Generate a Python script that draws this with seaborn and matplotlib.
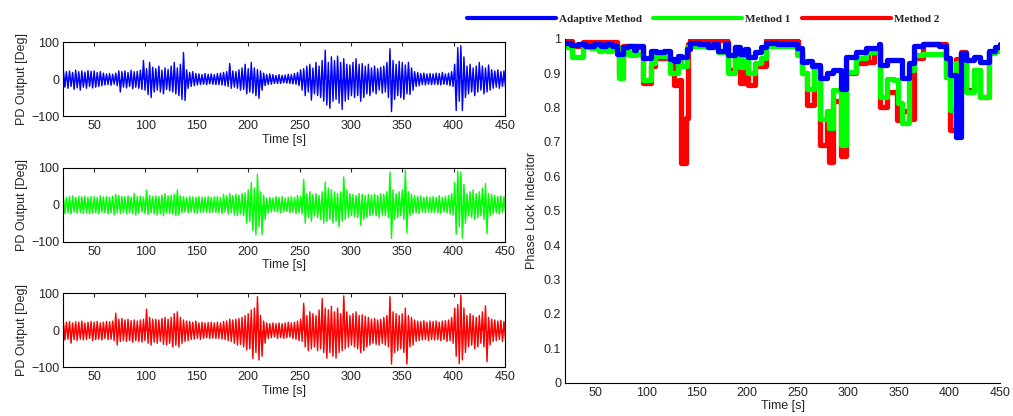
import numpy as np
import matplotlib
matplotlib.use("Agg")
import matplotlib.pyplot as plt
import seaborn as sns
from matplotlib.lines import Line2D
from matplotlib.ticker import FormatStrFormatter

# PD output envelopes, one upper and one lower peak per 3 s bin (t = 20, 23, ..., 449)
bin_start = 20
bin_width = 3

blue_upper = [25, 20, 22, 18, 24, 20, 22, 19, 23, 21,
              22, 18, 20, 16, 14, 15, 13, 16, 22, 20,
              22, 18, 24, 20, 21, 24, 50, 28, 45, 32,
              28, 35, 24, 30, 26, 35, 45, 30, 40, 72,
              25, 18, 20, 15, 14, 12, 15, 13, 14, 12,
              15, 16, 18, 20, 42, 22, 20, 25, 30, 40,
              28, 45, 30, 26, 22, 16, 12, 14, 12, 10,
              12, 10, 11, 13, 12, 15, 18, 25, 28, 35,
              40, 30, 45, 35, 50, 78, 45, 60, 50, 62,
              45, 55, 40, 38, 45, 55, 40, 42, 35, 40,
              30, 35, 28, 32, 35, 45, 82, 50, 40, 48,
              45, 38, 45, 30, 20, 18, 15, 16, 14, 15,
              14, 16, 15, 18, 14, 16, 20, 40, 85, 90,
              60, 35, 40, 30, 35, 45, 35, 30, 38, 25,
              22, 25, 20, 22]
blue_lower = [-22, -25, -20, -28, -24, -30, -22, -25, -20, -24,
              -22, -20, -18, -16, -15, -17, -14, -18, -35, -22,
              -24, -20, -26, -22, -25, -28, -30, -42, -50, -35,
              -30, -35, -40, -28, -32, -35, -40, -45, -55, -58,
              -25, -20, -18, -16, -15, -14, -15, -13, -14, -15,
              -15, -16, -18, -20, -25, -22, -25, -30, -28, -40,
              -35, -38, -45, -52, -30, -18, -15, -14, -12, -12,
              -12, -10, -11, -12, -13, -14, -18, -30, -45, -35,
              -57, -40, -45, -50, -60, -70, -79, -60, -55, -65,
              -82, -60, -55, -45, -50, -45, -60, -50, -40, -45,
              -35, -40, -30, -38, -35, -50, -88, -55, -45, -50,
              -55, -40, -42, -30, -20, -18, -15, -16, -14, -15,
              -14, -15, -16, -14, -15, -18, -20, -85, -60, -85,
              -50, -40, -35, -45, -35, -30, -40, -35, -30, -25,
              -22, -25, -20, -22]

green_upper = [23, 20, 22, 24, 20, 22, 21, 23, 20, 22,
               22, 20, 24, 21, 22, 20, 23, 28, 25, 22,
               22, 24, 20, 30, 22, 24, 21, 39, 25, 22,
               24, 22, 26, 30, 24, 26, 28, 40, 24, 22,
               20, 22, 21, 20, 22, 20, 21, 22, 20, 21,
               22, 20, 28, 24, 30, 25, 28, 26, 30, 32,
               40, 60, 45, 82, 35, 25, 18, 20, 18, 22,
               20, 22, 18, 20, 22, 20, 25, 22, 68, 30,
               35, 28, 30, 25, 35, 61, 45, 40, 35, 30,
               35, 75, 40, 30, 28, 25, 30, 28, 25, 28,
               26, 28, 25, 30, 28, 35, 88, 40, 30, 35,
               40, 93, 35, 28, 25, 22, 24, 20, 22, 20,
               22, 20, 24, 20, 22, 25, 30, 60, 91, 88,
               55, 30, 35, 40, 30, 35, 45, 57, 30, 28,
               25, 22, 24, 22]
green_lower = [-24, -22, -25, -20, -23, -21, -24, -22, -25, -22,
               -22, -24, -20, -22, -25, -22, -28, -22, -24, -22,
               -25, -22, -24, -28, -22, -20, -24, -26, -22, -25,
               -28, -25, -30, -22, -24, -26, -30, -28, -22, -20,
               -22, -20, -22, -24, -20, -21, -20, -22, -20, -21,
               -22, -24, -20, -25, -22, -28, -30, -25, -30, -50,
               -45, -70, -82, -60, -80, -40, -22, -20, -18, -20,
               -22, -20, -18, -22, -20, -24, -22, -25, -50, -35,
               -45, -30, -35, -40, -50, -45, -40, -50, -45, -60,
               -45, -40, -35, -30, -32, -35, -55, -40, -35, -30,
               -28, -30, -35, -28, -30, -35, -91, -40, -35, -30,
               -40, -76, -30, -25, -22, -24, -20, -22, -20, -22,
               -20, -22, -24, -20, -22, -25, -28, -80, -60, -90,
               -50, -30, -35, -40, -35, -30, -40, -78, -30, -25,
               -22, -25, -20, -22]

red_upper = [25, 22, 24, 20, 23, 22, 25, 20, 22, 24,
             22, 24, 20, 22, 24, 23, 25, 46, 30, 32,
             28, 30, 26, 28, 25, 28, 30, 57, 35, 30,
             30, 28, 32, 35, 30, 35, 45, 50, 35, 28,
             25, 24, 22, 25, 20, 22, 20, 21, 22, 20,
             22, 20, 24, 25, 30, 28, 30, 32, 35, 40,
             45, 55, 60, 91, 40, 25, 20, 18, 20, 18,
             20, 18, 20, 22, 20, 22, 25, 30, 73, 40,
             50, 45, 40, 55, 86, 60, 55, 65, 50, 60,
             45, 93, 50, 40, 45, 50, 40, 42, 38, 35,
             30, 32, 28, 30, 35, 40, 91, 50, 45, 40,
             45, 60, 40, 35, 28, 25, 24, 26, 22, 25,
             24, 25, 22, 25, 26, 28, 35, 60, 70, 95,
             60, 40, 45, 40, 35, 40, 50, 66, 35, 30,
             28, 25, 27, 24]
red_lower = [-26, -24, -35, -25, -28, -24, -26, -25, -22, -28,
             -25, -24, -26, -22, -25, -24, -28, -40, -30, -28,
             -30, -28, -32, -28, -30, -32, -28, -35, -40, -32,
             -35, -30, -38, -40, -35, -45, -40, -45, -35, -30,
             -28, -25, -24, -22, -25, -22, -20, -22, -21, -22,
             -22, -24, -25, -28, -30, -35, -40, -38, -45, -53,
             -50, -76, -60, -80, -70, -35, -22, -20, -18, -22,
             -20, -22, -20, -18, -22, -24, -28, -30, -45, -55,
             -50, -45, -55, -50, -60, -75, -60, -70, -75, -60,
             -55, -50, -45, -40, -45, -50, -60, -55, -45, -40,
             -35, -38, -40, -35, -40, -45, -91, -60, -55, -50,
             -60, -91, -45, -40, -30, -28, -26, -25, -28, -25,
             -26, -25, -28, -25, -30, -28, -35, -70, -90, -80,
             -60, -45, -40, -50, -45, -35, -45, -85, -40, -30,
             -28, -25, -30, -26]

# Phase lock indicator, step breakpoints (time [s], value)
adaptive_t = [20, 26, 33, 40, 48, 55, 60, 66, 71, 77, 82, 88, 90, 97, 105, 110, 118,
              124, 128, 132, 135, 140, 143, 152, 161, 166, 171, 178, 181, 188, 193,
              198, 201, 208, 214, 219, 230, 249, 254, 259, 264, 267, 272, 279, 285,
              293, 298, 308, 318, 330, 331, 338, 345, 353, 360, 365, 374, 390, 397,
              401, 407, 412, 417, 424, 430, 439, 445, 450]
adaptive_v = [0.987, 0.982, 0.985, 0.98, 0.985, 0.978, 0.985, 0.98, 0.955, 0.975, 0.98,
              0.968, 0.98, 0.943, 0.965, 0.96, 0.965, 0.94, 0.935, 0.95, 0.948, 0.97,
              0.987, 0.985, 0.975, 0.985, 0.965, 0.985, 0.952, 0.975, 0.955, 0.97,
              0.948, 0.96, 0.975, 0.988, 0.985, 0.972, 0.933, 0.935, 0.92, 0.923,
              0.885, 0.9, 0.908, 0.855, 0.948, 0.96, 0.972, 0.986, 0.923, 0.938,
              0.938, 0.885, 0.928, 0.98, 0.985, 0.978, 0.943, 0.894, 0.715, 0.957,
              0.938, 0.948, 0.933, 0.965, 0.975, 0.985]

method1_t = [20, 27, 38, 45, 53, 56, 61, 66, 73, 77, 80, 84, 90, 97, 105, 109, 124,
             132, 135, 140, 143, 160, 171, 178, 181, 188, 193, 198, 201, 208, 214,
             219, 230, 249, 254, 259, 266, 272, 279, 281, 285, 293, 298, 308, 318,
             330, 331, 338, 345, 349, 353, 360, 365, 374, 397, 401, 407, 412, 417,
             424, 430, 439, 445, 450]
method1_v = [0.975, 0.947, 0.975, 0.972, 0.965, 0.975, 0.965, 0.975, 0.886, 0.955,
             0.96, 0.952, 0.955, 0.88, 0.93, 0.95, 0.9, 0.94, 0.92, 0.975, 0.978,
             0.975, 0.96, 0.975, 0.899, 0.96, 0.918, 0.95, 0.9, 0.928, 0.943, 0.978,
             0.978, 0.952, 0.899, 0.855, 0.918, 0.768, 0.79, 0.74, 0.85, 0.69, 0.904,
             0.943, 0.962, 0.975, 0.83, 0.884, 0.88, 0.812, 0.754, 0.909, 0.952,
             0.955, 0.89, 0.793, 0.93, 0.957, 0.846, 0.909, 0.83, 0.958, 0.965, 0.97]

method2_t = [20, 27, 38, 60, 71, 73, 77, 90, 97, 105, 109, 124, 128, 133, 135, 139,
             141, 143, 180, 181, 188, 190, 193, 198, 201, 208, 214, 219, 249, 250,
             254, 259, 266, 272, 279, 281, 285, 293, 298, 308, 318, 320, 325, 330,
             331, 338, 348, 353, 360, 365, 374, 397, 401, 407, 412, 417, 424, 430,
             439, 445, 450]
method2_v = [0.992, 0.98, 0.99, 0.99, 0.975, 0.9, 0.98, 0.975, 0.87, 0.92, 0.945,
             0.92, 0.865, 0.88, 0.638, 0.77, 0.985, 0.995, 0.99, 0.91, 0.975, 0.93,
             0.87, 0.96, 0.865, 0.92, 0.92, 0.995, 0.992, 0.96, 0.9, 0.806, 0.918,
             0.69, 0.78, 0.642, 0.82, 0.66, 0.9, 0.93, 0.96, 0.933, 0.96, 0.98,
             0.802, 0.846, 0.763, 0.79, 0.768, 0.945, 0.985, 0.89, 0.735, 0.94, 0.96,
             0.85, 0.91, 0.83, 0.96, 0.97, 0.975]

sns.set_style("white")
plt.rcParams["font.family"] = ["Liberation Sans", "DejaVu Sans"]
plt.rcParams["font.size"] = 9

fig = plt.figure(figsize=(10.13, 4.16), dpi=100)

# left column: three PD output traces
left_axes = [fig.add_axes([0.0625, 0.721, 0.436, 0.178]),
             fig.add_axes([0.0625, 0.419, 0.436, 0.178]),
             fig.add_axes([0.0625, 0.117, 0.436, 0.178])]
traces = [(blue_upper, blue_lower, "#0000ff"),
          (green_upper, green_lower, "#00ff00"),
          (red_upper, red_lower, "#ff0000")]

for ax, (up, lo, col) in zip(left_axes, traces):
    n = len(up)
    t_up = bin_start + bin_width * np.arange(n)
    t_lo = t_up + bin_width / 2
    t = np.ravel(np.column_stack([t_up, t_lo]))
    y = np.ravel(np.column_stack([up, lo]))
    # solid core between the zig-zag and zero, then the trace itself
    ax.fill_between(t, y, 0, color=col, linewidth=0)
    sns.lineplot(x=t, y=y, ax=ax, color=col, linewidth=1.0, sort=False,
                 estimator=None)
    ax.set_xlim(20, 450)
    ax.set_ylim(-100, 100)
    ax.set_xticks(range(50, 451, 50))
    ax.set_yticks([-100, 0, 100])
    ax.set_xlabel("Time [s]", labelpad=1)
    ax.set_ylabel("PD Output [Deg]", labelpad=2)
    ax.tick_params(direction="in", length=3, top=True, right=True, pad=3,
                   labelsize=9)
    for s in ax.spines.values():
        s.set_linewidth(0.8)
        s.set_color("black")

# right: phase lock indicator
axr = fig.add_axes([0.558, 0.080, 0.429, 0.827])
series = [(method2_t, method2_v, "#ff0000", "Method 2"),
          (method1_t, method1_v, "#00ff00", "Method 1"),
          (adaptive_t, adaptive_v, "#0000ff", "Adaptive Method")]
for tt, vv, col, name in series:
    sns.lineplot(x=tt, y=vv, ax=axr, color=col, linewidth=3.8,
                 drawstyle="steps-post", sort=False, estimator=None)
axr.set_xlim(20, 450)
axr.set_ylim(0, 1)
axr.set_xticks(range(50, 451, 50))
axr.set_yticks(np.arange(0, 1.01, 0.1))
axr.yaxis.set_major_formatter(FormatStrFormatter("%g"))
axr.set_xlabel("Time [s]", labelpad=1)
axr.set_ylabel("Phase Lock Indecitor", labelpad=4)
axr.tick_params(direction="in", length=3, pad=3, labelsize=9)
axr.spines["top"].set_visible(False)
axr.spines["right"].set_visible(False)
for s in ["left", "bottom"]:
    axr.spines[s].set_linewidth(0.8)
    axr.spines[s].set_color("black")

handles = [Line2D([], [], color="#0000ff", lw=3, solid_capstyle="round"),
           Line2D([], [], color="#00ff00", lw=3, solid_capstyle="round"),
           Line2D([], [], color="#ff0000", lw=3, solid_capstyle="round")]
fig.legend(handles, ["Adaptive Method", "Method 1", "Method 2"],
           loc="center", bbox_to_anchor=(0.694, 0.955), ncol=3, frameon=False,
           handlelength=8.0, handletextpad=0.3, columnspacing=1.0,
           prop={"family": "Liberation Serif", "weight": "bold", "size": 8})

fig.savefig("out.png", dpi=100)
